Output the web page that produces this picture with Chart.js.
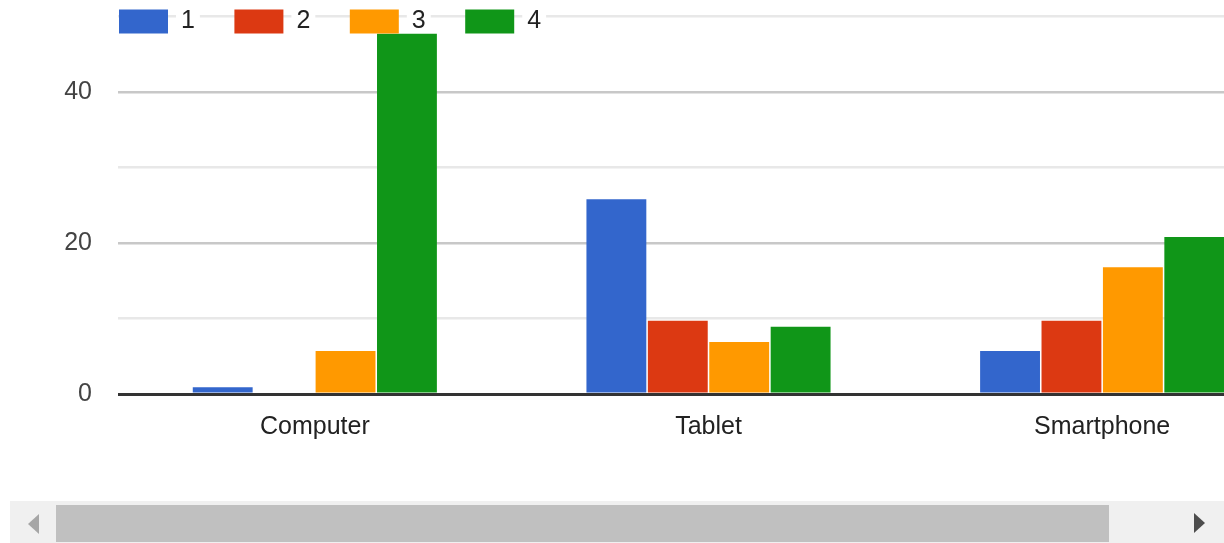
<!DOCTYPE html>
<html>
<head>
<meta charset="utf-8">
<script src="https://cdn.jsdelivr.net/npm/chart.js@4"></script>
<style>
  body { margin: 0; background: #fff; width: 1224px; height: 543px; overflow: hidden; position: relative; }
  #wrap { position: absolute; left: 0; top: 0; width: 1224px; height: 500px; overflow: hidden; }
  #inner { width: 1299px; height: 500px; position: relative; }
  .track { position: absolute; left: 10px; top: 501px; width: 1214px; height: 42px; background: #f0f0f0; }
  .thumb { position: absolute; left: 56px; top: 505px; width: 1053px; height: 37px; background: #c0c0c0; }
  .arrL { position: absolute; left: 28px; top: 514px; width: 0; height: 0;
          border-top: 10px solid transparent; border-bottom: 10px solid transparent; border-right: 11px solid #a6a6a6; }
  .arrR { position: absolute; left: 1194px; top: 513px; width: 0; height: 0;
          border-top: 10px solid transparent; border-bottom: 10px solid transparent; border-left: 11px solid #4d4d4d; }
</style>
</head>
<body>
<div id="wrap"><div id="inner"><canvas id="myChart"></canvas></div></div>
<div class="track"></div>
<div class="thumb"></div>
<div class="arrL"></div>
<div class="arrR"></div>
<script>
const categories = ["Computer", "Tablet", "Smartphone"];
const seriesNames = ["1", "2", "3", "4"];
const series1 = [0.9, 25.8, 5.7];
const series2 = [0, 9.7, 9.7];
const series3 = [5.7, 6.9, 16.8];
const series4 = [47.7, 8.9, 20.8];
const yTicks = [0, 20, 40];

const colors = ['#3366cc', '#dc3912', '#ff9900', '#109618'];
const font = '"Liberation Sans", Arial, sans-serif';

// legend drawn over the top of the plot, starting at the left of the chart area
const topLegend = {
    id: 'topLegend',
    afterDraw(chart) {
        const ctx = chart.ctx;
        const area = chart.chartArea;
        let x = area.left + 1;
        ctx.save();
        ctx.font = '25px ' + font;
        ctx.textBaseline = 'middle';
        chart.data.datasets.forEach(ds => {
            const w = ctx.measureText(ds.label).width;
            ctx.fillStyle = ds.backgroundColor;
            ctx.fillRect(x, 9.5, 49, 24);
            ctx.fillStyle = '#fff';
            ctx.fillRect(x + 57, 12, w + 10, 18);
            ctx.fillStyle = '#222';
            ctx.fillText(ds.label, x + 62, 21);
            x += 49 + 13 + w + 39.5;
        });
        ctx.restore();
    }
};

const data = [series1, series2, series3, series4];

new Chart(document.getElementById('myChart').getContext('2d'), {
    type: 'bar',
    data: {
        labels: categories,
        datasets: seriesNames.map((name, i) => ({
            label: name,
            data: data[i],
            backgroundColor: colors[i],
            borderWidth: 0,
            categoryPercentage: 0.624,
            barPercentage: 0.975
        }))
    },
    options: {
        responsive: true,
        maintainAspectRatio: false,
        animation: false,
        layout: { padding: { top: 16.5, right: 0, left: 0, bottom: 0 } },
        plugins: {
            legend: { display: false },
            tooltip: { enabled: false }
        },
        scales: {
            x: {
                grid: { display: false },
                border: { display: false },
                ticks: { color: '#222', font: { family: font, size: 25 }, padding: 10, maxRotation: 0 },
                afterFit: axis => { axis.height = 106; axis.paddingLeft = 0; axis.paddingRight = 0; }
            },
            y: {
                min: 0,
                max: 50,
                border: { display: false },
                grid: {
                    drawTicks: false,
                    color: c => c.tick.value === 0 ? '#333333' : (c.tick.value % 20 === 0 ? '#c8c8c8' : '#e8e8e8'),
                    lineWidth: c => c.tick.value === 0 ? 3 : 2.5
                },
                ticks: {
                    stepSize: 10,
                    color: '#444',
                    padding: 26,
                    font: { family: font, size: 25 },
                    callback: v => yTicks.includes(v) ? String(v) : ''
                },
                afterFit: axis => { axis.width = 118; axis.paddingTop = 0; axis.paddingBottom = 0; }
            }
        }
    },
    plugins: [topLegend]
});
</script>
</body>
</html>
